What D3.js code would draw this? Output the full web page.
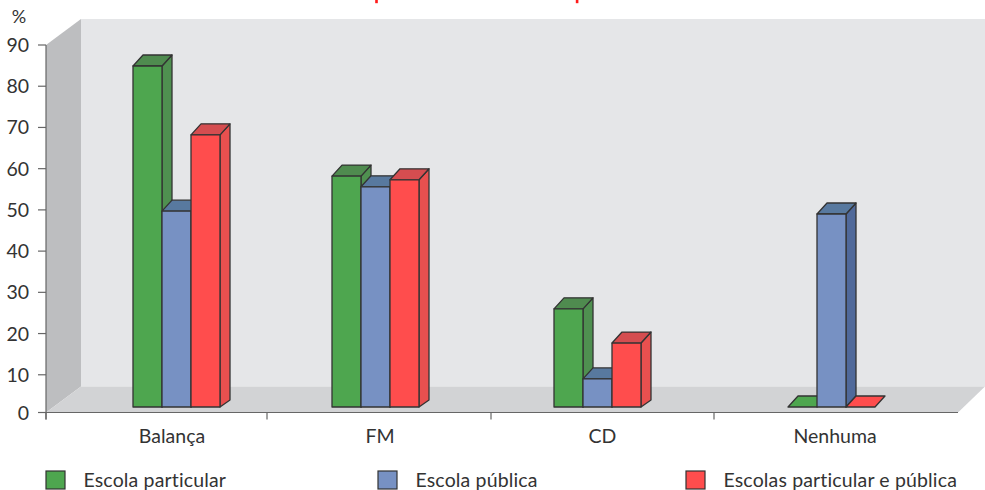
<!DOCTYPE html>
<html>
<head>
<meta charset="utf-8">
<script src="https://cdn.jsdelivr.net/npm/d3@7"></script>
<style>
  html, body { margin: 0; padding: 0; background: #fff; }
  svg { display: block; }
  text { font-family: Lato, "Open Sans", sans-serif; fill: #333; }
</style>
</head>
<body>
<svg id="chart" width="985" height="490"></svg>
<script>
const categories = ["Balança", "FM", "CD", "Nenhuma"];
const seriesNames = ["Escola particular", "Escola pública", "Escolas particular e pública"];
const particular = [84.9, 58.2, 26, 0];
const publica = [49.7, 55.6, 9, 49];
const ambas = [68.2, 57.3, 17.7, 0];
const yTicks = [0, 10, 20, 30, 40, 50, 60, 70, 80, 90];

const seriesValues = [particular, publica, ambas];
const faceColors = ["#4ea64f", "#7791c3", "#ff4d4d"];
const topColors = ["#4f8b4f", "#58799f", "#d54d50"];
const sideColors = ["#4f9050", "#50699a", "#e8504f"];
const sideDrop = [11, 11, 7];

const svg = d3.select("#chart");
const ink = "#333";
const axisInk = "#666";

// Scales: front plane of the 3D box
const y = d3.scaleLinear().domain([0, 90]).range([416, 45]);
const groupLeft = d3.scaleOrdinal().domain(categories).range([133, 332, 554, 788]);
const labelX = d3.scaleOrdinal().domain(categories).range([172, 380, 602.5, 835]);
const barOffset = d3.scaleBand().domain(d3.range(seriesNames.length)).range([0, 87]);
const tickX = [46, 267, 491, 714];

const depth = { wallX: 35, wallY: -26, barX: 10, barY: -11 };
const floorY = 412.5;
const backTop = y(90) + depth.wallY;
const backBottom = floorY + depth.wallY;
const frontLeft = 46, frontRight = 958, backLeft = frontLeft + depth.wallX, backRight = 985;
const barBase = 407;
// The zero tick sits on the floor edge, just above the scale's own zero
const tickY = t => Math.min(y(t), floorY);

const poly = pts => pts.map(p => p.join(",")).join(" ");

// Walls and floor
svg.append("rect")
  .attr("x", backLeft).attr("y", backTop)
  .attr("width", backRight - backLeft).attr("height", backBottom - backTop)
  .attr("fill", "#e5e6e8");
svg.append("polygon")
  .attr("points", poly([[frontLeft, y(90)], [backLeft, backTop], [backLeft, backBottom], [frontLeft, floorY]]))
  .attr("fill", "#bdbec0");
svg.append("polygon")
  .attr("points", poly([[frontLeft, floorY], [backLeft, backBottom], [backRight, backBottom], [frontRight, floorY]]))
  .attr("fill", "#d2d3d5");

// Value axis
svg.append("line")
  .attr("x1", frontLeft).attr("x2", frontLeft)
  .attr("y1", y(90)).attr("y2", floorY + 7)
  .attr("stroke", axisInk).attr("stroke-width", 1.2);
yTicks.forEach(t => {
  svg.append("line")
    .attr("x1", 38).attr("x2", frontLeft)
    .attr("y1", tickY(t)).attr("y2", tickY(t))
    .attr("stroke", axisInk).attr("stroke-width", 1.2);
  svg.append("text")
    .attr("x", 29).attr("y", tickY(t) + 7)
    .attr("text-anchor", "end").attr("font-size", 19.5)
    .text(t);
});
svg.append("text")
  .attr("x", 19).attr("y", 23)
  .attr("text-anchor", "middle").attr("font-size", 18)
  .text("%");

// Category axis
svg.append("line")
  .attr("x1", frontLeft).attr("x2", frontRight)
  .attr("y1", floorY).attr("y2", floorY)
  .attr("stroke", axisInk).attr("stroke-width", 1.2);
tickX.forEach(x => {
  svg.append("line")
    .attr("x1", x).attr("x2", x)
    .attr("y1", floorY).attr("y2", floorY + 7)
    .attr("stroke", axisInk).attr("stroke-width", 1.2);
});
svg.selectAll("text.category")
  .data(categories)
  .join("text")
  .attr("class", "category")
  .attr("x", d => labelX(d)).attr("y", 443)
  .attr("text-anchor", "middle").attr("font-size", 19.5)
  .text(d => d);

// Bars: each one has a top, a side and a front face, painted left to right
categories.forEach((cat, c) => {
  seriesValues.forEach((values, s) => {
    const x0 = groupLeft(cat) + barOffset(s);
    const x1 = x0 + barOffset.bandwidth();
    const topY = Math.min(y(values[c]), barBase);
    const g = svg.append("g")
      .attr("stroke", ink).attr("stroke-width", 1.3).attr("stroke-linejoin", "round");
    if (values[c] > 0) {
      g.append("polygon")
        .attr("points", poly([[x1, topY], [x1 + depth.barX, topY + depth.barY],
          [x1 + depth.barX, barBase - sideDrop[s]], [x1, barBase]]))
        .attr("fill", sideColors[s]);
      g.append("polygon")
        .attr("points", poly([[x0, topY], [x0 + depth.barX, topY + depth.barY],
          [x1 + depth.barX, topY + depth.barY], [x1, topY]]))
        .attr("fill", topColors[s]);
      g.append("rect")
        .attr("x", x0).attr("y", topY)
        .attr("width", x1 - x0).attr("height", barBase - topY)
        .attr("fill", faceColors[s]);
    } else {
      // A zero value leaves only a flat patch on the floor
      g.append("polygon")
        .attr("points", poly([[x0, barBase], [x0 + depth.barX, barBase + depth.barY],
          [x1 + depth.barX, barBase + depth.barY], [x1, barBase]]))
        .attr("fill", faceColors[s]);
    }
  });
});

// Legend
const legendSwatch = [46, 378, 686];
seriesNames.forEach((name, s) => {
  svg.append("rect")
    .attr("x", legendSwatch[s]).attr("y", 471)
    .attr("width", 19).attr("height", 18)
    .attr("fill", faceColors[s])
    .attr("stroke", ink).attr("stroke-width", 1.2);
  svg.append("text")
    .attr("x", legendSwatch[s] + 37.5).attr("y", 486.5)
    .attr("font-size", 19.5).attr("letter-spacing", 0.15)
    .text(name);
});

// Two red strokes along the top edge, left by the heading that runs off the page
svg.selectAll("rect.heading-mark")
  .data([375.2, 575.8])
  .join("rect")
  .attr("class", "heading-mark")
  .attr("x", d => d).attr("y", 0)
  .attr("width", 2.6).attr("height", 3.2)
  .attr("fill", "#ff1a1a");
</script>
</body>
</html>
